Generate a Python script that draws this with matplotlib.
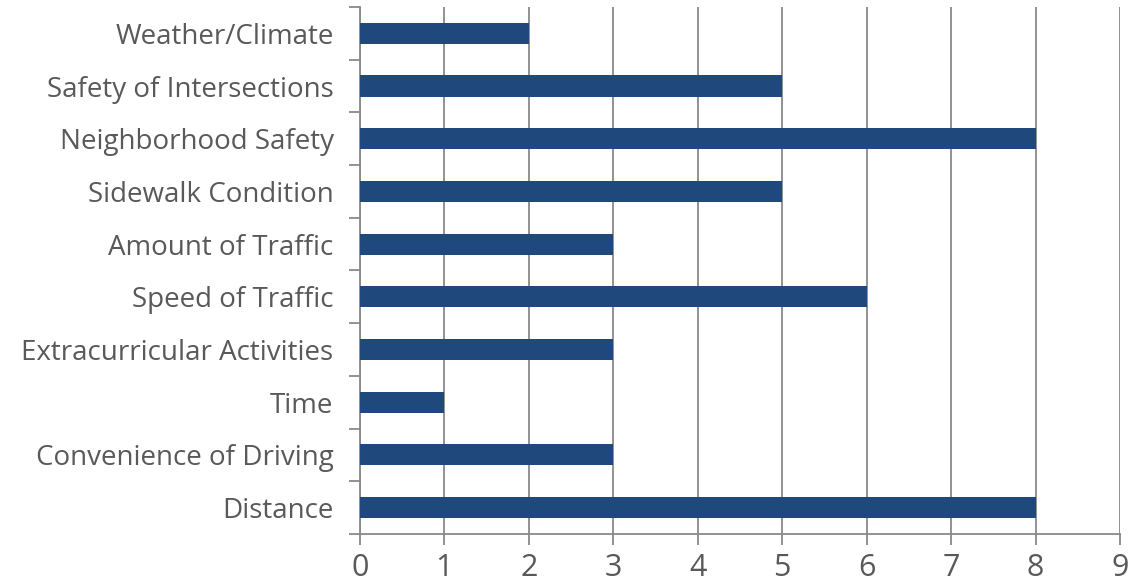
import numpy as np
import matplotlib.pyplot as plt
from matplotlib.ticker import MultipleLocator, FixedLocator

plt.rcParams['font.family'] = ['Open Sans', 'DejaVu Sans']

# Reasons, listed bottom to top as drawn on the y axis
reasons = [
    "Distance",
    "Convenience of Driving",
    "Time",
    "Extracurricular Activities",
    "Speed of Traffic",
    "Amount of Traffic",
    "Sidewalk Condition",
    "Neighborhood Safety",
    "Safety of Intersections",
    "Weather/Climate",
]
counts = [8, 3, 1, 3, 6, 3, 5, 8, 5, 2]

bar_color = "#1F497D"
line_color = "#898989"
text_color = "#595959"

fig = plt.figure(figsize=(11.38, 5.82), dpi=100)
ax = fig.add_axes([0.3163, 0.0825, 0.6679, 0.9055])

y = np.arange(len(reasons))
ax.barh(y, counts, height=0.4, color=bar_color, zorder=3)

ax.set_xlim(0, 9)
ax.set_ylim(-0.5, len(reasons) - 0.5)
ax.xaxis.set_major_locator(MultipleLocator(1))
ax.grid(axis="x", color=line_color, linewidth=1.3, zorder=0)

ax.set_yticks(y)
ax.set_yticklabels(reasons)
# small tick marks sit between the categories, not at the labels
ax.yaxis.set_minor_locator(FixedLocator(np.arange(-0.5, len(reasons), 1.0)))

ax.tick_params(axis="y", which="major", length=0, pad=19, labelsize=20,
               labelcolor=text_color)
ax.tick_params(axis="y", which="minor", length=8, width=1.3, color=line_color,
               direction="out")
ax.tick_params(axis="x", length=8, width=1.3, color=line_color, pad=6,
               labelsize=22, labelcolor=text_color)

for side in ("top", "right"):
    ax.spines[side].set_visible(False)
for side in ("left", "bottom"):
    ax.spines[side].set_color(line_color)
    ax.spines[side].set_linewidth(1.3)

fig.savefig("out.png", dpi=100)
